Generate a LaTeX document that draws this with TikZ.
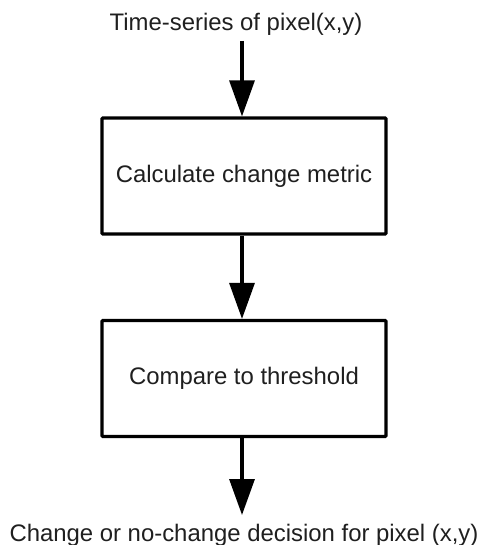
\documentclass[tikz,border=0pt]{standalone}
\usepackage{fontspec}
\setmainfont{Liberation Sans}
\usetikzlibrary{arrows.meta}

\begin{document}
\begin{tikzpicture}[x=1pt, y=-1pt,
    every node/.style={font=\fontsize{23.9}{28}\selectfont, text=black!88},
    stepbox/.style={draw=black, line width=3.2pt, rounded corners=1pt,
        minimum width=284pt, minimum height=116pt},
    flow/.style={line width=3.2pt, -{Triangle[width=25pt, length=36pt]}}]
    \useasboundingbox (0,0) rectangle (482,545);
    % input and output labels
    \node[anchor=base] at (236,31) (series) {Time-series of pixel(x,y)};
    \node[anchor=base] at (244,541) (decision) {Change or no-change decision for pixel (x,y)};
    % processing steps
    \node[stepbox] at (244,176) (metric) {Calculate change metric};
    \node[stepbox] at (244,378.5) (thresh) {Compare to threshold};
    % arrows
    \draw[flow] ([xshift=6pt, yshift=-10pt]series.base) -- ([xshift=-2pt]metric.north);
    \draw[flow] ([xshift=-2pt]metric.south) -- ([xshift=-2pt]thresh.north);
    \draw[flow] ([xshift=-2pt]thresh.south) -- ([xshift=-2pt, yshift=26pt]decision.base);
\end{tikzpicture}
\end{document}
